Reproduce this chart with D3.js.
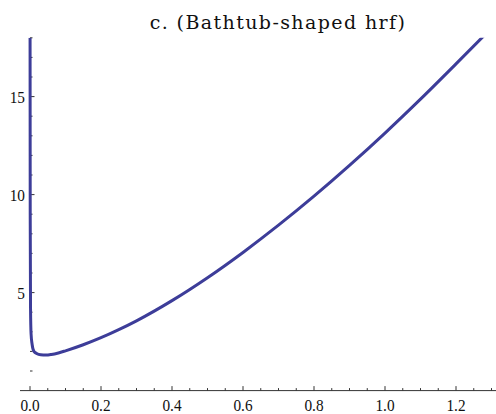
<!DOCTYPE html>
<html>
<head>
	<script src="https://d3js.org/d3.v7.min.js"></script>
	<meta charset="UTF-8">
	<style>
		body{ margin:0; background-color:#ffffff; }
		svg{ display:block; }
	</style>
</head>
<body>
	<div class="a"></div>
	<script type="text/javascript">
		var title = "c. (Bathtub-shaped hrf)";

		// hazard curve
		var xs = [0.0002, 0.0006, 0.0015, 0.003, 0.006, 0.011, 0.02, 0.03, 0.045, 0.06, 0.08, 0.1, 0.15, 0.2, 0.25, 0.3, 0.4, 0.5, 0.6, 0.7, 0.8, 0.9, 1.0, 1.1, 1.2, 1.28];
		var ys = [18, 9, 4.2, 2.9, 2.35, 2.0, 1.88, 1.83, 1.81, 1.84, 1.92, 2.03, 2.34, 2.7, 3.11, 3.56, 4.59, 5.76, 7.05, 8.44, 9.92, 11.49, 13.14, 14.87, 16.67, 18.13];

		var xTicks = [0.0, 0.2, 0.4, 0.6, 0.8, 1.0, 1.2];
		var xMinor = d3.range(0, 1.31, 0.05);
		var yTicks = [5, 10, 15];
		var yMinor = d3.range(1, 19, 1);

		var w = 496, h = 414;
		var xScale = d3.scaleLinear().domain([0, 1.2]).range([30, 456]);
		var yScale = d3.scaleLinear().domain([0, 15]).range([390.6, 96.6]);
		var yTop = 18;
		var tickFont = "'Liberation Serif', 'Times New Roman', Times, serif";

		var svg = d3.select("div.a").append("svg")
					.attr("width", w).attr("height", h);

		// clip to plot region
		svg.append("clipPath").attr("id", "clip")
		   .append("rect")
		   .attr("x", 0).attr("y", yScale(yTop))
		   .attr("width", w).attr("height", yScale(0) - yScale(yTop));

		//x axis
		svg.append("line")
		   .attr("x1", 20).attr("x2", w)
		   .attr("y1", yScale(0)).attr("y2", yScale(0))
		   .attr("stroke", "#333").attr("stroke-width", 1);

		svg.selectAll("line.xminor")
		   .data(xMinor)
		   .enter().append("line")
		   .attr("class", "xminor")
		   .attr("x1", function(d){ return xScale(d); })
		   .attr("x2", function(d){ return xScale(d); })
		   .attr("y1", yScale(0))
		   .attr("y2", function(d){
		   		var major = Math.abs(d*5 - Math.round(d*5)) < 1e-6;
		   		return yScale(0) - (major ? 4.5 : 2.5);
		   })
		   .attr("stroke", "#333").attr("stroke-width", 1);

		svg.selectAll("text.xlab")
		   .data(xTicks)
		   .enter().append("text")
		   .attr("class", "xlab")
		   .attr("text-anchor", "middle")
		   .attr("transform", function(d){ return "translate(" + xScale(d) + ",411) scale(0.9,1)"; })
		   .style("font-family", tickFont)
		   .attr("font-size", "17px")
		   .attr("fill", "#111")
		   .text(function(d){ return d3.format(".1f")(d); });

		//y axis ticks (axis line sits under the curve)
		svg.selectAll("line.ymin")
		   .data(yMinor)
		   .enter().append("line")
		   .attr("class", "ymin")
		   .attr("x1", xScale(0))
		   .attr("x2", function(d){ return xScale(0) + (d % 5 === 0 ? 4.5 : 2.5); })
		   .attr("y1", function(d){ return yScale(d); })
		   .attr("y2", function(d){ return yScale(d); })
		   .attr("stroke", "#333").attr("stroke-width", 1);

		svg.selectAll("text.ylab")
		   .data(yTicks)
		   .enter().append("text")
		   .attr("class", "ylab")
		   .attr("text-anchor", "end")
		   .attr("transform", function(d){ return "translate(25," + (yScale(d) + 6) + ") scale(0.9,1)"; })
		   .style("font-family", tickFont)
		   .attr("font-size", "17px")
		   .attr("fill", "#111")
		   .text(function(d){ return d; });

		//curve
		var line = d3.line()
					 .x(function(d, i){ return xScale(xs[i]); })
					 .y(function(d, i){ return yScale(ys[i]); })
					 .curve(d3.curveMonotoneX);

		svg.append("path")
		   .datum(xs)
		   .attr("clip-path", "url(#clip)")
		   .attr("d", line)
		   .attr("fill", "none")
		   .attr("stroke", "#3d3d99")
		   .attr("stroke-width", 3);

		//title
		svg.append("text")
		   .attr("x", 278).attr("y", 29)
		   .attr("text-anchor", "middle")
		   .style("font-family", "'DejaVu Serif', serif")
		   .style("letter-spacing", "1.4px")
		   .attr("font-size", "19px")
		   .attr("fill", "#111")
		   .text(title);
	</script>
</body>
</html>
